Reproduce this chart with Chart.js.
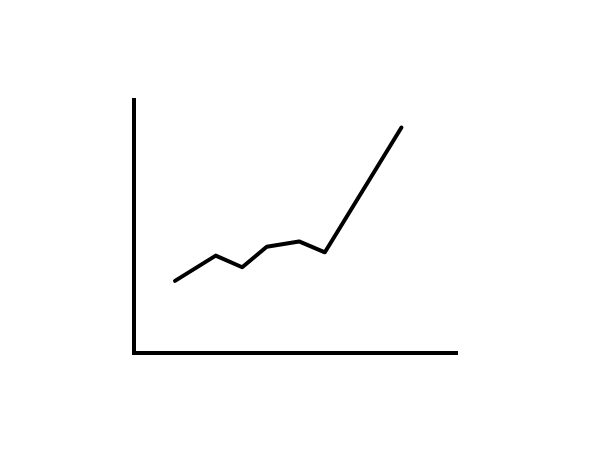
<!DOCTYPE html>
<html>
<head>
<meta charset="utf-8">
<script src="https://cdn.jsdelivr.net/npm/chart.js@4"></script>
<style>
html,body{margin:0;padding:0;background:#fff;}
#wrap{width:600px;height:450px;position:relative;}
</style>
</head>
<body>
<div id="wrap"><canvas id="c" width="600" height="450"></canvas></div>
<script>
const xValues = [1.27, 2.53, 3.35, 4.11, 5.11, 5.91, 8.28];
const yValues = [2.85, 3.85, 3.39, 4.20, 4.41, 3.98, 8.91];
const points = xValues.map((x, i) => ({x: x, y: yValues[i]}));

new Chart(document.getElementById('c'), {
  type: 'scatter',
  data: {
    datasets: [{
      data: points,
      showLine: true,
      borderColor: '#000',
      borderWidth: 4,
      pointRadius: 0,
      pointHoverRadius: 0,
      borderCapStyle: 'round',
      borderJoinStyle: 'round',
      tension: 0,
      fill: false
    }]
  },
  options: {
    responsive: false,
    animation: false,
    devicePixelRatio: 1,
    layout: {padding: {left: 134, top: 100, right: 143, bottom: 97}},
    plugins: {legend: {display: false}, tooltip: {enabled: false}},
    scales: {
      x: {
        type: 'linear', min: 0, max: 10,
        grid: {display: false, drawTicks: false},
        ticks: {display: false},
        border: {display: true, color: '#000', width: 4}
      },
      y: {
        type: 'linear', min: 0, max: 10,
        grid: {display: false, drawTicks: false},
        ticks: {display: false},
        border: {display: true, color: '#000', width: 4}
      }
    }
  }
});
</script>
</body>
</html>
